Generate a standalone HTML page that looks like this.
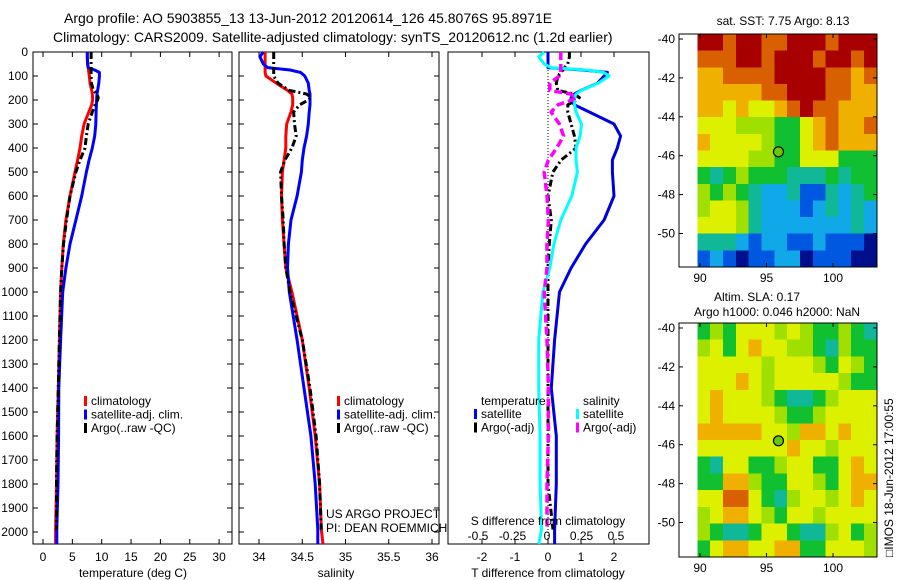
<!DOCTYPE html>
<html><head><meta charset="utf-8"><style>
html,body{margin:0;padding:0;background:#fff;}
svg{display:block;font-family:"Liberation Sans",sans-serif;}
text{fill:#000;font-size:12px;}
</style></head><body>
<svg id="fig" width="900" height="580" viewBox="0 0 900 580">
<text x="64" y="23" style="font-size:14px">Argo profile: AO 5903855_13 13-Jun-2012 20120614_126 45.8076S 95.8971E</text>
<text x="53" y="42" style="font-size:14px">Climatology: CARS2009. Satellite-adjusted climatology: synTS_20120612.nc (1.2d earlier)</text>
<g id="p1"></g>
<g id="p2"></g>
<g id="p3"></g>
<g id="m1"></g>
<g id="m2"></g>
<text transform="translate(893,557) rotate(-90)" style="font-size:12px">□IMOS 18-Jun-2012 17:00:55</text>
</svg>
<script>
const depths=[0,20,50,65,75,85,100,130,160,175,190,200,220,250,300,350,400,450,500,600,700,800,900,1000,1200,1400,1600,1800,1990,2050];
const tempClim=[7.55,7.55,7.6,7.7,7.75,7.8,7.9,8.0,8.3,8.4,8.45,8.45,8.3,7.8,7.0,6.6,6.3,5.9,5.45,4.6,3.9,3.46,3.2,3.0,2.8,2.6,2.4,2.3,2.15,2.15];
const tempSat=[7.55,7.55,7.6,7.7,8.8,9.6,9.6,9.5,9.3,9.2,9.15,9.15,9.1,9.05,9.0,8.8,8.4,7.85,7.4,6.6,5.6,4.6,3.9,3.35,3.0,2.7,2.65,2.55,2.35,2.35];
const tempArgo=[8.2,8.2,8.2,8.2,8.2,8.2,8.2,8.25,8.6,9.2,9.4,9.3,8.9,8.4,7.7,7.4,7.15,6.3,5.6,4.6,4.0,3.5,3.2,3.0,2.8,2.6,2.4,2.3,2.3,null];
const salClim=[34.07,34.07,34.07,34.07,34.07,34.07,34.08,34.2,34.33,34.38,34.39,34.39,34.39,34.37,34.32,34.31,34.31,34.29,34.27,34.26,34.27,34.29,34.31,34.38,34.5,34.58,34.65,34.70,34.72,34.74];
const salSat=[34.05,34.01,34.05,34.1,34.36,34.48,34.53,34.57,34.58,34.59,34.59,34.59,34.59,34.58,34.57,34.55,34.52,34.5,34.49,34.44,34.37,34.34,34.33,34.35,34.44,34.52,34.6,34.65,34.68,34.68];
const salArgo=[34.17,34.17,34.17,34.17,34.17,34.17,34.17,34.22,34.35,34.55,34.6,34.57,34.47,34.4,34.41,34.43,34.38,34.3,34.25,34.26,34.28,34.29,34.31,34.36,34.5,34.59,34.66,34.7,34.72,null];
const depthTicks=[0,100,200,300,400,500,600,700,800,900,1000,1100,1200,1300,1400,1500,1600,1700,1800,1900,2000];
const tempTicks=[0,5,10,15,20,25,30];
const salTicks=[34,34.5,35,35.5,36];
const salTickLabels=["34","34.5","35","35.5","36"];
const tdTicks=[-2,-1,0,1,2];
const sdTicks=[-0.5,-0.25,0,0.25,0.5];
const sdTickLabels=["-0.5","-0.25","0","0.25","0.5"];
const latTicks=[-40,-42,-44,-46,-48,-50];
const lonTicks=[90,95,100];
const argoLon=95.9, argoLat=-45.8;
const sstGrid=[
"99899889998999","88899899989989","77888899998878","77777889998877",
"77676678988777","66655544678778","76666544678777","66665544666444",
"43454443334344","54543223113234","56653222123232","66653222222232",
"33321221121110","12101122011100"];
const slaGrid=[
"45466656544543","56467665543544","66666566654654","66676566666544",
"67666543345666","67666654456666","77777665776766","66666667665666",
"43664456644676","44775446654677","66886435665676","56776546656666",
"54334664335645","46776677446665"];

const NS="http://www.w3.org/2000/svg";
function mk(tag,attrs,parent){const e=document.createElementNS(NS,tag);for(const k in attrs)e.setAttribute(k,attrs[k]);parent.appendChild(e);return e;}
const TOP=52, BOT=544;
const yD=d=>TOP+d*0.24;
const p1X=t=>43+t*5.87;
const p2X=s=>259+(s-34)*86.5;
const p3T=t=>548+t*33;
const p3S=s=>547+s*138;

function frame(g,x0,x1,name){
  const r=mk('rect',{x:x0,y:TOP,width:x1-x0,height:BOT-TOP,fill:'none',stroke:'#000','stroke-width':1},g);
  
  
  depthTicks.forEach(d=>{const y=yD(d);
    mk('line',{x1:x0,x2:x0+5,y1:y,y2:y,stroke:'#000'},g);
    mk('line',{x1:x1-5,x2:x1,y1:y,y2:y,stroke:'#000'},g);});
}
function xticks(g,fx,ticks,labels,ly){
  ticks.forEach((t,i)=>{const x=fx(t);
    mk('line',{x1:x,x2:x,y1:TOP,y2:TOP+5,stroke:'#000'},g);
    mk('line',{x1:x,x2:x,y1:BOT-5,y2:BOT,stroke:'#000'},g);
    if(ly){const tx=mk('text',{x:x,y:ly,'text-anchor':'middle'},g);tx.textContent=labels[i];
      
      }
  });
}
function line(g,vals,fx,color,w,dash,name){
  let d='';let pen=false;
  vals.forEach((v,i)=>{if(v===null||v===undefined||isNaN(v)){pen=false;return;}
    d+=(pen?'L':'M')+fx(v).toFixed(1)+','+yD(depths[i]).toFixed(1);pen=true;});
  const a={d:d,fill:'none',stroke:color,'stroke-width':w,'stroke-linejoin':'round'};
  if(dash)a['stroke-dasharray']=dash;
  const p=mk('path',a,g);
  
  
}
function legend(g,x,y,items){
  items.forEach((it,i)=>{const yy=y+i*13.5;
    mk('rect',{x:x,y:yy-9,width:3,height:10,fill:it[1]},g);
    const t=mk('text',{x:x+7,y:yy},g);t.textContent=it[0];
    
    });
}
const ARGODASH='7,3,2,3';
const g1=document.getElementById('p1');
frame(g1,33,232,'temperature-panel');
xticks(g1,p1X,tempTicks,tempTicks.map(String),561);
depthTicks.forEach(d=>{const t=mk('text',{x:28,y:yD(d)+4,'text-anchor':'end'},g1);t.textContent=d;
  
  });
line(g1,tempClim,p1X,'#f00',3,null,'temp-climatology-line');
line(g1,tempSat,p1X,'#00f',3,null,'temp-satellite-line');
line(g1,tempArgo,p1X,'#000',3,ARGODASH,'temp-argo-line');
legend(g1,84,405,[['climatology','#f00'],['satellite-adj. clim.','#00f'],['Argo(..raw -QC)','#000']]);
{const t=mk('text',{x:133,y:577,'text-anchor':'middle'},g1);t.textContent='temperature (deg C)';}
const g2=document.getElementById('p2');
frame(g2,239,439,'salinity-panel');
xticks(g2,p2X,salTicks,salTickLabels,561);
line(g2,salClim,p2X,'#f00',3,null,'sal-climatology-line');
line(g2,salSat,p2X,'#00f',3,null,'sal-satellite-line');
line(g2,salArgo,p2X,'#000',3,ARGODASH,'sal-argo-line');
legend(g2,337,405,[['climatology','#f00'],['satellite-adj. clim.','#00f'],['Argo(..raw -QC)','#000']]);
{const t=mk('text',{x:336,y:577,'text-anchor':'middle'},g2);t.textContent='salinity';}
{const t=mk('text',{x:326,y:518},g2);t.textContent='US ARGO PROJECT';}
{const t=mk('text',{x:326,y:532},g2);t.textContent='PI: DEAN ROEMMICH';}
const g3=document.getElementById('p3');
mk('rect',{x:448,y:TOP,width:201,height:BOT-TOP,fill:'none',stroke:'#000'},g3);
xticks(g3,p3T,tdTicks,tdTicks.map(String),561);
mk('line',{x1:p3T(0),x2:p3T(0),y1:TOP,y2:BOT,stroke:'#000','stroke-dasharray':'1,2'},g3);
const tdSat=tempSat.map((v,i)=>v-tempClim[i]);
const tdArgo=tempArgo.map((v,i)=>v===null?null:v-tempClim[i]);
const sdSat=salSat.map((v,i)=>v-salClim[i]);
const sdArgo=salArgo.map((v,i)=>v===null?null:v-salClim[i]);
line(g3,tdSat,p3T,'#00d',3,null,'tdiff-satellite-line');
line(g3,tdArgo,p3T,'#000',3,ARGODASH,'tdiff-argo-line');
line(g3,sdSat,p3S,'#0ff',3,null,'sdiff-satellite-line');
line(g3,sdArgo,p3S,'#f0f',3.5,'8,4','sdiff-argo-line');
{const t=mk('text',{x:481,y:405},g3);t.textContent='temperature';}
{const t=mk('text',{x:583,y:405},g3);t.textContent='salinity';}
legend(g3,474,418,[['satellite','#00f'],['Argo(-adj)','#000']]);
legend(g3,576,418,[['satellite','#0ff'],['Argo(-adj)','#f0f']]);
{const t=mk('text',{x:548,y:525,'text-anchor':'middle'},g3);t.textContent='S difference from climatology';}
sdTicks.forEach((s,i)=>{const t=mk('text',{x:p3S(s),y:540,'text-anchor':'middle'},g3);t.textContent=sdTickLabels[i];
  
  });
{const t=mk('text',{x:548,y:577,'text-anchor':'middle'},g3);t.textContent='T difference from climatology';}
const jet=['#00108c','#0058e0','#10a8e8','#10b898','#10c030','#a0e000','#dcf000','#f0b000','#d86000','#a80000'];
function drawMap(g,grid,top,bottom,latTop,name){
  const x0=679,x1=877;
  const lonX=lon=>700+(lon-90)*13.3;
  mk('rect',{x:x0,y:top,width:x1-x0,height:bottom-top,fill:'#fff'},g);
  const rows=grid.length, cols=grid[0].length;
  const lonMin=89.8, lonMax=103.3;
  const latMax=-40+(latTop-top)/19.45, latMin=-40-(bottom-latTop)/19.45;
  const dlon=(lonMax-lonMin)/cols, dlat=(latMax-latMin)/rows;
  const latYm=lat=>latTop+(-40-lat)*19.45;
  grid.forEach((row,r)=>{for(let c=0;c<cols;c++){
    const v=+row[c];
    const xa=lonX(lonMin+c*dlon), xb=lonX(lonMin+(c+1)*dlon);
    const ya=latYm(latMax-r*dlat), yb=latYm(latMax-(r+1)*dlat);
    const cell=mk('rect',{x:xa.toFixed(2),y:ya.toFixed(2),width:(xb-xa+0.5).toFixed(2),height:(yb-ya+0.5).toFixed(2),fill:jet[v],'shape-rendering':'crispEdges'},g);
    
    
  }});
  mk('rect',{x:x0,y:top,width:x1-x0,height:bottom-top,fill:'none',stroke:'#000'},g);
  latTicks.forEach(l=>{const y=latYm(l);
    mk('line',{x1:x0,x2:x0+4,y1:y,y2:y,stroke:'#000'},g);
    mk('line',{x1:x1-4,x2:x1,y1:y,y2:y,stroke:'#000'},g);
    const t=mk('text',{x:675,y:y+4,'text-anchor':'end'},g);t.textContent=l;
    
    });
  lonTicks.forEach(l=>{const x=lonX(l);
    mk('line',{x1:x,x2:x,y1:top,y2:top+4,stroke:'#000'},g);
    mk('line',{x1:x,x2:x,y1:bottom-4,y2:bottom,stroke:'#000'},g);
    const t=mk('text',{x:x,y:bottom+15,'text-anchor':'middle'},g);t.textContent=l;
    
    });
  const m=mk('circle',{cx:lonX(argoLon),cy:latYm(argoLat),r:5,fill:'#6c0',stroke:'#000','stroke-width':1.2},g);
  
  
}
const gm1=document.getElementById('m1');
drawMap(gm1,sstGrid,34,267,39,'sst');
{const t=mk('text',{x:783,y:25,'text-anchor':'middle'},gm1);t.textContent='sat. SST: 7.75 Argo: 8.13';}
const gm2=document.getElementById('m2');
drawMap(gm2,slaGrid,323,557,328,'sla');
{const t=mk('text',{x:757,y:301,'text-anchor':'middle'},gm2);t.textContent='Altim. SLA: 0.17';}
{const t=mk('text',{x:777,y:316,'text-anchor':'middle'},gm2);t.textContent='Argo h1000: 0.046 h2000: NaN';}
</script>
</body></html>
